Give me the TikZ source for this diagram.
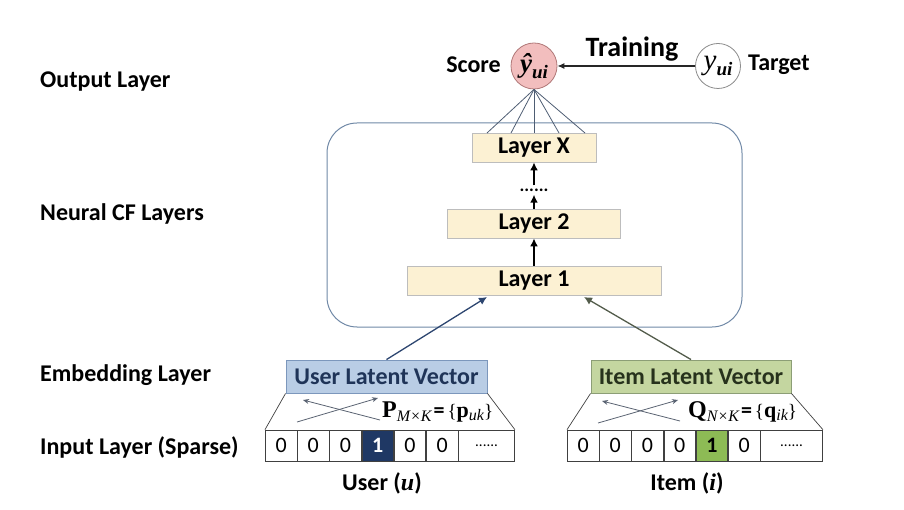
\documentclass[tikz,border=0pt]{standalone}
\usepackage{fontspec}
\setmainfont{Carlito}
\newfontfamily\tnr{Liberation Serif}
\usetikzlibrary{arrows.meta,calc}
\definecolor{scorefill}{HTML}{F2BEBE}
\definecolor{scoredraw}{HTML}{B07878}
\definecolor{layerfill}{HTML}{FCF1D3}
\definecolor{layerdraw}{HTML}{BDBDBD}
\definecolor{ncfdraw}{HTML}{6F88A6}
\definecolor{userfill}{HTML}{B9CDE5}
\definecolor{userdraw}{HTML}{7C97BC}
\definecolor{usertext}{HTML}{1F3458}
\definecolor{itemfill}{HTML}{C4D6A0}
\definecolor{itemdraw}{HTML}{8C9E76}
\definecolor{itemtext}{HTML}{27321C}
\definecolor{darkcell}{HTML}{1F3864}
\definecolor{greencell}{HTML}{8DBB55}
\definecolor{fanline}{HTML}{4E5D73}
\definecolor{userarrow}{HTML}{2D4670}
\definecolor{itemarrow}{HTML}{535C4B}
\definecolor{crossarrow}{HTML}{5A6372}
\newcommand{\fs}[1]{\fontsize{#1}{#1}\selectfont}
\newcommand{\lowsub}[2]{\raisebox{-#1}{#2}}
\tikzset{
  lbl/.style={font=\fs{24}\bfseries, anchor=west, inner sep=0},
  txt/.style={font=\fs{24}\bfseries, inner sep=0},
  layerbox/.style={draw=layerdraw, fill=layerfill, line width=0.8, minimum height=29, inner sep=0, font=\fs{24}\bfseries},
  cell/.style={draw=black!75, line width=0.7, minimum height=31, minimum width=31.5, inner sep=0, anchor=west, font=\fs{22}},
  arr/.style={-{Latex[length=8, width=8]}, line width=2},
  thin arr/.style={-{Stealth[length=6, width=5]}, line width=0.8, draw=crossarrow},
  fan/.style={draw=fanline, line width=0.8},
}
\begin{document}
\begin{tikzpicture}[x=1pt, y=-1pt]
\useasboundingbox (0,0) rectangle (904,510);
% left labels
\node[lbl] (lout) at (40,82) {Output Layer};
\node[lbl] (lncf) at (40,214) {Neural CF Layers};
\node[lbl] (lemb) at (40,375) {Embedding Layer};
\node[lbl] (linp) at (40,447) {Input Layer (Sparse)};
% output
\node[circle, fill=scorefill, draw=scoredraw, line width=0.8, minimum size=46, inner sep=0] (score) at (534,66)
  {{\tnr\bfseries\itshape\fs{27}ŷ}\lowsub{6pt}{\tnr\bfseries\itshape\fs{19}ui}};
\node[circle, fill=white, draw=black!45, line width=0.8, minimum size=45, inner sep=0] (target) at (718,66)
  {{\tnr\itshape\fs{29}y}\lowsub{6pt}{\tnr\bfseries\itshape\fs{19}ui}};
\node[txt, anchor=east] (scorelbl) at (501,65) {Score};
\node[txt, anchor=west] (targetlbl) at (748,65) {Target};
\node[txt, font=\fs{28}\bfseries] (training) at (632,49) {Training};
\draw[-{Latex[length=7, width=6]}, line width=1.1, black!85] (target) -- (score);
% neural CF block
\node[draw=ncfdraw, line width=1, rounded corners=30, minimum width=415, minimum height=204, inner sep=0] (ncf) at (534.5,225) {};
\node[layerbox, minimum width=124] (layerX) at (534,147.5) {Layer X};
\node[layerbox, minimum width=173] (layer2) at (534,223.5) {Layer 2};
\node[layerbox, minimum width=254] (layer1) at (534,280.5) {Layer 1};
\node[font=\fs{18}\bfseries, inner xsep=0, inner ysep=3, text height=3, text depth=0] (dots) at (534,190) {......};
\draw[arr] (layer1.north) -- (layer2.south);
\draw[arr] (layer2.north) -- (dots.south);
\draw[arr] (dots.north) -- (layerX.south);
% fan lines
\coordinate (f1) at (487,133);
\coordinate (f2) at (511,133);
\coordinate (f3) at (534,133);
\coordinate (f4) at (559,133);
\coordinate (f5) at (585,133);
\foreach \f in {f1,f2,f3,f4,f5} \draw[fan] (score.south) -- (\f);
% embedding boxes
\node[draw=userdraw, fill=userfill, line width=0.9, minimum width=201, minimum height=33, inner sep=0, text=usertext, font=\fs{24}\bfseries] (ubox) at (386.5,376.5) {User Latent Vector};
\node[draw=itemdraw, fill=itemfill, line width=0.9, minimum width=200, minimum height=33, inner sep=0, text=itemtext, font=\fs{24}\bfseries] (ibox) at (691,376.5) {Item Latent Vector};
\coordinate (l1u) at (487,297);
\coordinate (l1i) at (584,297);
\draw[arr, draw=userarrow, line width=1.3] (ubox.north) -- (l1u);
\draw[arr, draw=itemarrow, line width=1.3] (ibox.north) -- (l1i);
% user input row
\node[cell] (u1) at (265,445.5) {0};
\node[cell] (u2) at (u1.east) {0};
\node[cell] (u3) at (u2.east) {0};
\node[cell, fill=darkcell, text=white, font=\fs{22}\bfseries] (u4) at (u3.east) {1};
\node[cell] (u5) at (u4.east) {0};
\node[cell] (u6) at (u5.east) {0};
\node[cell, minimum width=56, font=\fs{15}] (u7) at (u6.east) {......};
% item input row
\node[cell] (i1) at (567,445.5) {0};
\node[cell] (i2) at (i1.east) {0};
\node[cell] (i3) at (i2.east) {0};
\node[cell] (i4) at (i3.east) {0};
\node[cell, fill=greencell, font=\fs{22}\bfseries] (i5) at (i4.east) {1};
\node[cell] (i6) at (i5.east) {0};
\node[cell, minimum width=62, font=\fs{15}] (i7) at (i6.east) {......};
% trapezoid sides
\draw[black!75, line width=0.7] (ubox.south west) -- (u1.north west);
\draw[black!75, line width=0.7] (ubox.south east) -- (u7.north east);
\draw[black!75, line width=0.7] (ibox.south west) -- (i1.north west);
\draw[black!75, line width=0.7] (ibox.south east) -- (i7.north east);
% crossed arrows
\coordinate (ua1) at (297,422); \coordinate (ua2) at (378,398);
\coordinate (ub1) at (380,420); \coordinate (ub2) at (303,400);
\draw[thin arr] (ua1) -- (ua2);
\draw[thin arr] (ub1) -- (ub2);
\coordinate (ia1) at (598,423); \coordinate (ia2) at (678,400);
\coordinate (ib1) at (680,421); \coordinate (ib2) at (602,401);
\draw[thin arr] (ia1) -- (ia2);
\draw[thin arr] (ib1) -- (ib2);
% embedding matrices
\node[inner sep=0, anchor=west] (pmat) at (382,412)
  {{\tnr\bfseries\fs{24}P}\lowsub{4pt}{\tnr\itshape\fs{16}M×K}\kern2pt{\bfseries\fs{22}=}\kern3pt{\tnr\fs{19}\{}{\tnr\bfseries\fs{22}p}\lowsub{3pt}{\tnr\itshape\fs{16}uk}{\tnr\fs{19}\}}};
\node[inner sep=0, anchor=west] (qmat) at (688,412)
  {{\tnr\bfseries\fs{24}Q}\lowsub{4pt}{\tnr\itshape\fs{16}N×K}\kern2pt{\bfseries\fs{22}=}\kern3pt{\tnr\fs{19}\{}{\tnr\bfseries\fs{22}q}\lowsub{3pt}{\tnr\itshape\fs{16}ik}{\tnr\fs{19}\}}};
% input labels
\node[txt] (ulbl) at (382,483) {User ({\tnr\bfseries\itshape u})};
\node[txt] (ilbl) at (687,483) {Item ({\tnr\bfseries\itshape i})};
\end{tikzpicture}
\end{document}
